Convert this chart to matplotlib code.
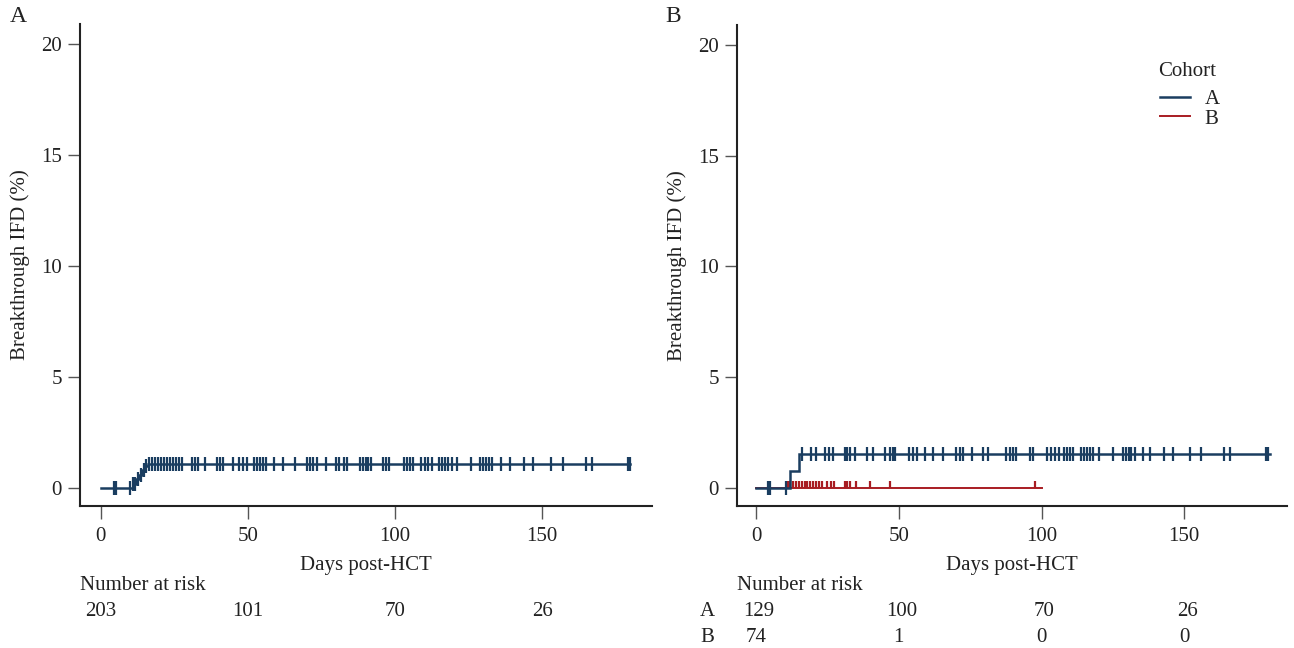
import numpy as np
import matplotlib
matplotlib.use("Agg")
import matplotlib.pyplot as plt
from matplotlib.transforms import blended_transform_factory
from matplotlib.lines import Line2D

plt.rcParams['font.family'] = ['Liberation Serif', 'DejaVu Serif']

# ---------------- data ----------------
# Panel A (all patients)
a_step_times = [0, 11, 12, 13, 14, 15, 16, 180]
a_step_levels = [0, 0.2, 0.4, 0.6, 0.8, 1.0, 1.08, 1.08]
a_censor = [4.5, 5, 10, 11, 11.5, 12.5, 13.5, 14.5, 15.5, 16.5, 17.5, 18.5, 19.5,
            20.5, 21.5, 22.5, 23.5, 24.5, 25.5, 26.5, 27.5, 31, 32, 33, 35.4,
            39.5, 40.5, 41.5, 45, 47, 48.3, 49.6, 52, 53, 54, 55, 56, 59, 62, 66,
            70, 71, 72, 73.5, 76.5, 80, 81, 82.5, 83.6, 88, 89, 90, 91, 91.8,
            96, 97, 98, 103, 104, 105, 106, 109, 110.2, 111.4, 112.6, 115, 116,
            117, 118, 119.4, 121, 126, 129, 130, 131, 132, 133, 136, 139, 144,
            147, 153, 157, 165, 167, 179.3, 179.8]

# Panel B, cohort A
ba_step_times = [0, 12, 15, 180]
ba_step_levels = [0, 0.78, 1.55, 1.55]
ba_censor = [4, 5, 10.5, 16.2, 19.3, 21, 24.2, 25.5, 27, 31, 32, 33, 34.7, 39, 41,
             45, 47, 48, 48.8, 53.7, 55, 56.5, 59, 61.8, 65.6, 70, 71.3, 72.6,
             75.8, 79.6, 81.4, 87.7, 88.8, 90, 91, 95.8, 97, 102, 103.3, 104.6,
             106, 108, 109, 110, 111, 114, 115, 116, 117, 118, 120, 125, 128.4,
             129.5, 130.5, 131.5, 132.6, 135.4, 138, 143, 146, 152, 156, 164, 166,
             178.6, 179.4]

# Panel B, cohort B
bb_step_times = [0, 100]
bb_step_levels = [0, 0]
bb_censor = [11, 12, 13, 14, 15, 16, 17, 18, 19, 20, 21, 22, 23, 25, 26.2, 27.4,
             31, 32, 33, 35, 40, 47, 97.6]

risk_times = [0, 50, 100, 150]
risk_all = [203, 101, 70, 26]
risk_A = [129, 100, 70, 26]
risk_B = [74, 1, 0, 0]

x_ticks = [0, 50, 100, 150]
y_ticks = [0, 5, 10, 15, 20]

BLUE = '#1a3d60'
RED = '#a81c22'
TXT = '#222222'
FS = 15

# ---------------- figure ----------------
W, H = 1294, 648
fig = plt.figure(figsize=(W / 100, H / 100), dpi=100)


def px_box(l, r, t, b):
    return [l / W, 1 - b / H, (r - l) / W, (b - t) / H]


axA = fig.add_axes(px_box(80, 652, 24, 506))
axB = fig.add_axes(px_box(737, 1287, 25, 506))


def level_at(times, levels, t):
    idx = np.searchsorted(np.asarray(times), np.asarray(t), side='right') - 1
    return np.asarray(levels)[idx]


def style(ax, xlim):
    ax.set_xlim(*xlim)
    ax.set_ylim(-0.81, 20.9)
    for s in ['top', 'right']:
        ax.spines[s].set_visible(False)
    for s in ['left', 'bottom']:
        ax.spines[s].set_linewidth(1.5)
        ax.spines[s].set_color(TXT)
    ax.set_xticks(x_ticks)
    ax.set_yticks(y_ticks)
    ax.tick_params(axis='both', direction='out', length=9, width=1.0,
                   color='#555555', labelsize=FS, labelcolor=TXT)
    ax.tick_params(axis='y', pad=4)
    ax.tick_params(axis='x', pad=6)
    ax.set_xlabel('Days post-HCT', fontsize=FS, color=TXT, labelpad=7)
    ax.set_ylabel('Breakthrough IFD (%)', fontsize=FS, color=TXT, labelpad=8)


def draw(ax, times, levels, censor, color, marker, ms, lw, label=None):
    ax.step(times, levels, where='post', color=color, lw=lw, label=label,
            solid_joinstyle='miter')
    ax.plot(censor, level_at(times, levels, censor), ls='none', marker=marker,
            color=color, ms=ms, mew=1.6)


# Panel A
style(axA, (-7.1, 187.4))
draw(axA, a_step_times, a_step_levels, a_censor, BLUE, '|', 9.5, 1.8)

# Panel B
style(axB, (-6.7, 186.0))
draw(axB, bb_step_times, bb_step_levels, bb_censor, RED, 2, 5, 1.4)
draw(axB, ba_step_times, ba_step_levels, ba_censor, BLUE, '|', 9.5, 1.8)

# legend: title as separate text, entries as legend
fig.text(1158 / W, 1 - 71 / H, 'Cohort', fontsize=FS, ha='left', va='center',
         color=TXT)
handles = [Line2D([], [], color=BLUE, lw=1.8), Line2D([], [], color=RED, lw=1.4)]
leg = axB.legend(handles, ['A', 'B'], frameon=False,
                 loc='upper left', bbox_to_anchor=(1150 / W, 1 - 79 / H),
                 bbox_transform=fig.transFigure, fontsize=FS,
                 handlelength=1.4, handletextpad=0.72, labelspacing=0.0,
                 borderpad=0)
for t in leg.get_texts():
    t.set_color(TXT)

# panel letters
fig.text(10 / W, 1 - 17 / H, 'A', fontsize=17, va='center', ha='left', color=TXT)
fig.text(665 / W, 1 - 17 / H, 'B', fontsize=17, va='center', ha='left', color=TXT)

# number at risk
fig.text(80 / W, 1 - 585 / H, 'Number at risk', fontsize=FS, va='center', ha='left',
         color=TXT)
fig.text(737 / W, 1 - 585 / H, 'Number at risk', fontsize=FS, va='center', ha='left',
         color=TXT)

trA = blended_transform_factory(axA.transData, fig.transFigure)
trB = blended_transform_factory(axB.transData, fig.transFigure)
for t, n in zip(risk_times, risk_all):
    fig.text(t, 1 - 612 / H, str(n), transform=trA, fontsize=FS, ha='center',
             va='center', color=TXT)
for t, n in zip(risk_times, risk_A):
    fig.text(t + 1, 1 - 612 / H, str(n), transform=trB, fontsize=FS, ha='center',
             va='center', color=TXT)
for t, n in zip(risk_times, risk_B):
    fig.text(t, 1 - 638 / H, str(n), transform=trB, fontsize=FS, ha='center',
             va='center', color=TXT)
fig.text(707 / W, 1 - 612 / H, 'A', fontsize=FS, ha='center', va='center', color=TXT)
fig.text(707 / W, 1 - 638 / H, 'B', fontsize=FS, ha='center', va='center', color=TXT)

fig.savefig('out.png', dpi=100)
